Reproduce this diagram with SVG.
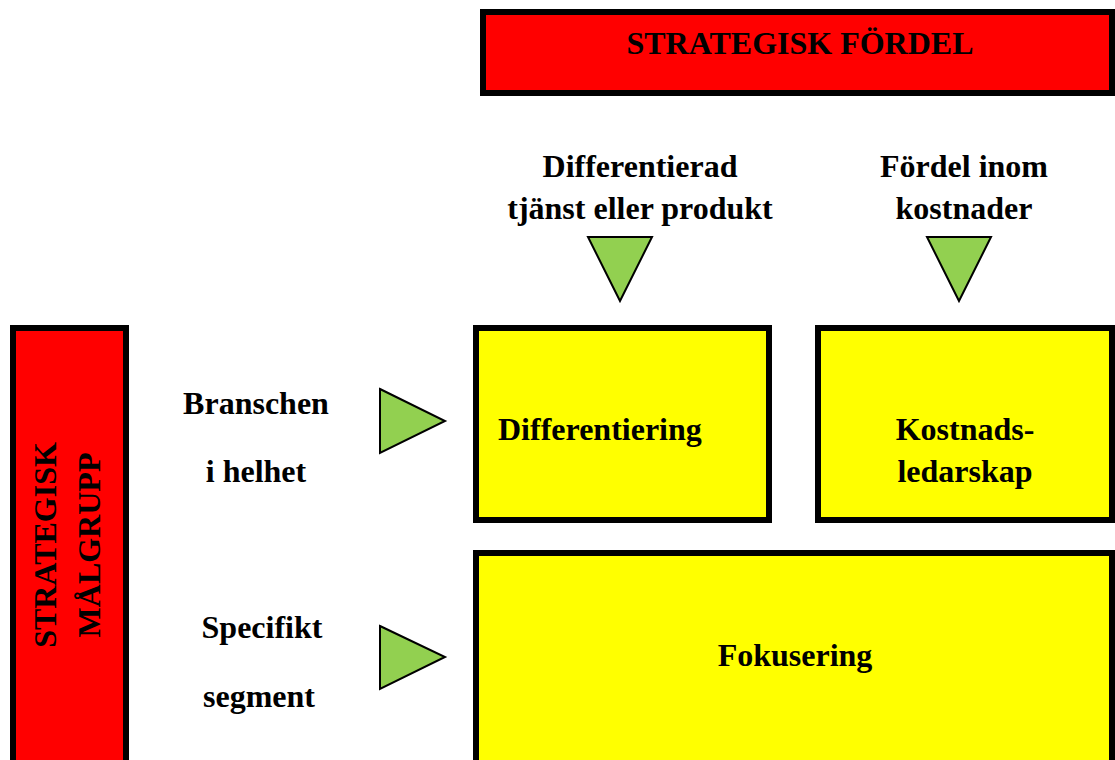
<svg xmlns="http://www.w3.org/2000/svg" width="1115" height="760" viewBox="0 0 1115 760">
<style>
.red{fill:#ff0000;stroke:#000;stroke-width:6}
.yel{fill:#ffff00;stroke:#000;stroke-width:6}
.tri{fill:#92d050;stroke:#000;stroke-width:2;stroke-linejoin:miter}
text{font-family:"Liberation Serif","Times New Roman",serif;font-weight:bold;font-size:32px;fill:#000}
.c{text-anchor:middle}
</style>
<rect width="1115" height="760" fill="#fff"/>
<g id="strategisk-fordel">
<rect class="red" x="483" y="12" width="629" height="81"/>
<text class="c" x="800" y="54">STRATEGISK FÖRDEL</text>
</g>
<g id="strategisk-malgrupp">
<rect class="red" x="13" y="328" width="113" height="450"/>
<text class="c" transform="translate(56,545) rotate(-90)">STRATEGISK</text>
<text class="c" transform="translate(100,545) rotate(-90)">MÅLGRUPP</text>
</g>
<g id="label-differentierad">
<text class="c" x="640" y="177">Differentierad</text>
<text class="c" x="640" y="219">tjänst eller produkt</text>
</g>
<g id="label-fordel-inom">
<text class="c" x="964" y="177">Fördel inom</text>
<text class="c" x="964" y="219">kostnader</text>
</g>
<g id="label-branschen">
<text class="c" x="256" y="414">Branschen</text>
<text class="c" x="256" y="482">i helhet</text>
</g>
<g id="label-specifikt">
<text class="c" x="262" y="638">Specifikt</text>
<text class="c" x="259" y="707">segment</text>
</g>
<g id="connectors">
<polygon class="tri" points="588,237 652,237 620,301"/>
<polygon class="tri" points="927,237 991,237 959,301"/>
<polygon class="tri" points="380,389 445,421 380,453"/>
<polygon class="tri" points="380,626 445,657 380,689"/>
</g>
<g id="differentiering">
<rect class="yel" x="476" y="328" width="293" height="192"/>
<text x="498" y="440">Differentiering</text>
</g>
<g id="kostnadsledarskap">
<rect class="yel" x="818" y="328" width="294" height="192"/>
<text class="c" x="965" y="440">Kostnads-</text>
<text class="c" x="965" y="482">ledarskap</text>
</g>
<g id="fokusering">
<rect class="yel" x="476" y="553" width="636" height="230"/>
<text class="c" x="795" y="666">Fokusering</text>
</g>
</svg>
